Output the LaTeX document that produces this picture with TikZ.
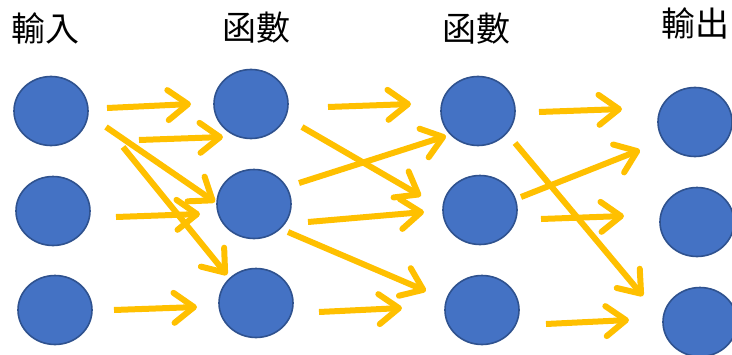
\documentclass[tikz,border=0pt]{standalone}
\usepackage{fontspec}
\newfontfamily\cjk{Noto Sans CJK TC}
\usetikzlibrary{shapes.geometric,arrows.meta}
\definecolor{nodeblue}{HTML}{4472C4}
\definecolor{nodeedge}{HTML}{2F528F}
\definecolor{arrowyellow}{HTML}{FFC000}
\tikzset{
  neuron/.style={ellipse, fill=nodeblue, draw=nodeedge, line width=1.6pt,
    minimum width=74pt, minimum height=69pt, inner sep=0pt},
  lbl/.style={font=\cjk\fontsize{34}{36}\selectfont, inner sep=0pt},
  conn/.style={draw=arrowyellow, line width=6pt, line cap=butt,
    -{Straight Barb[length=20pt,width=30pt,line cap=round,line join=round]}}
}
\begin{document}
\begin{tikzpicture}[x=1pt,y=-1pt]
\useasboundingbox (0,0) rectangle (732,354);
\clip (0,0) rectangle (732,354);
% labels
\node[lbl] (t1) at (46,28) {輸入};
\node[lbl] (t2) at (256,28) {函數};
\node[lbl] (t3) at (476,29) {函數};
\node[lbl] (t4) at (695,23) {輸出};
% neurons
\node[neuron] (n11) at (51,111) {};
\node[neuron] (n21) at (53,211) {};
\node[neuron] (n31) at (55,310) {};
\node[neuron] (n12) at (251,104) {};
\node[neuron] (n22) at (254,204) {};
\node[neuron] (n32) at (256,303) {};
\node[neuron] (n13) at (478,111) {};
\node[neuron] (n23) at (480,210) {};
\node[neuron] (n33) at (482,310) {};
\node[neuron] (n14) at (695,122) {};
\node[neuron] (n24) at (697,222) {};
\node[neuron] (n34) at (700,322) {};
% arrow end points
\coordinate (a1s) at (107,108); \coordinate (a1e) at (191,104);
\coordinate (a2s) at (139,140); \coordinate (a2e) at (223,137);
\coordinate (a3s) at (106,127); \coordinate (a3e) at (215,202);
\coordinate (a4s) at (123,147); \coordinate (a4e) at (227,275);
\coordinate (a5s) at (116,217); \coordinate (a5e) at (200,214);
\coordinate (a6s) at (114,310); \coordinate (a6e) at (197,307);
\coordinate (b1s) at (328,107); \coordinate (b1e) at (411,104);
\coordinate (b2s) at (302,127); \coordinate (b2e) at (421,196);
\coordinate (b3s) at (299,183); \coordinate (b3e) at (446,136);
\coordinate (b4s) at (308,222); \coordinate (b4e) at (424,212);
\coordinate (b5s) at (288,232); \coordinate (b5e) at (426,291);
\coordinate (b6s) at (319,312); \coordinate (b6e) at (402,308);
\coordinate (d1s) at (539,112); \coordinate (d1e) at (622,109);
\coordinate (d2s) at (521,197); \coordinate (d2e) at (640,150);
\coordinate (d3s) at (541,219); \coordinate (d3e) at (624,216);
\coordinate (d4s) at (515,143); \coordinate (d4e) at (643,296);
\coordinate (d5s) at (546,324); \coordinate (d5e) at (629,320);
% arrows
\foreach \a in {a1,a2,a3,a4,a5,a6,b1,b2,b3,b4,b5,b6,d1,d2,d3,d4,d5}
  \draw[conn] (\a s) -- (\a e);
\end{tikzpicture}
\end{document}
